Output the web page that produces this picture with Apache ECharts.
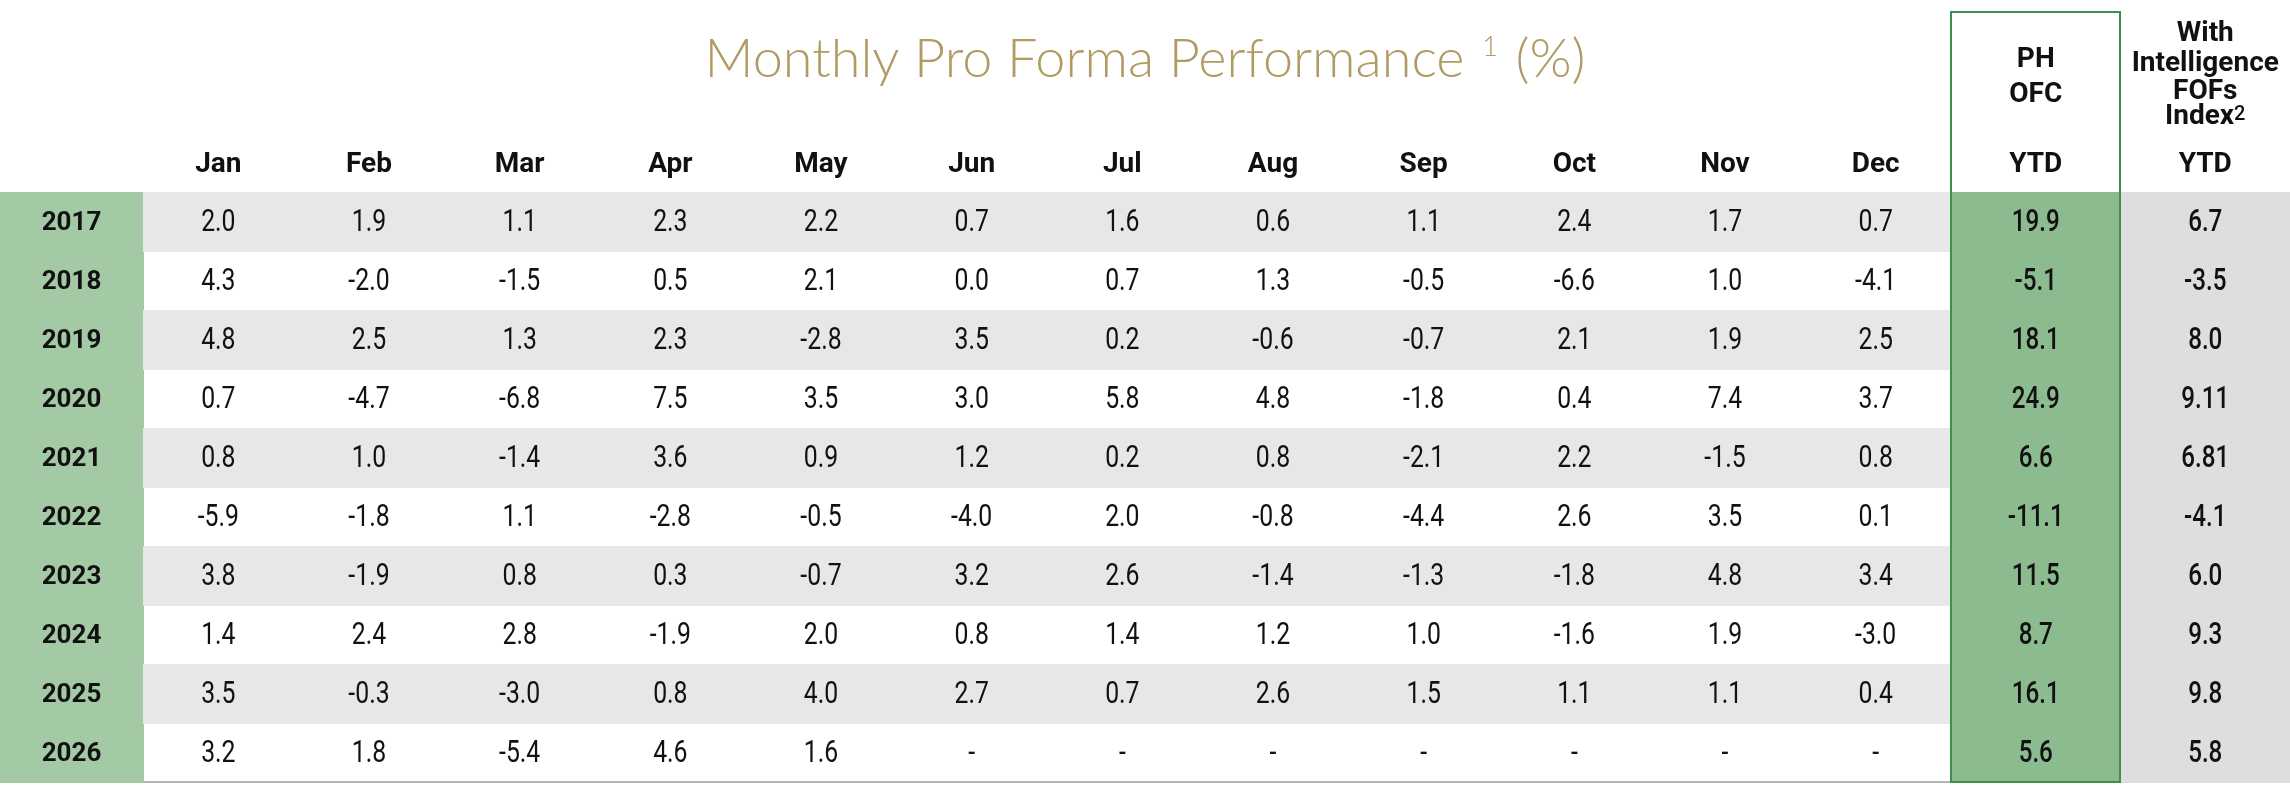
<!DOCTYPE html>
<html>
<head>
<meta charset="utf-8">
<title>Monthly Pro Forma Performance</title>
<script src="https://cdn.jsdelivr.net/npm/echarts@6/dist/echarts.min.js"></script>
<style>
  html, body { margin: 0; padding: 0; background: #fff; }
  #chart { width: 2290px; height: 790px; }
</style>
</head>
<body>
<div id="chart"></div>
<script>
const years = ['2017', '2018', '2019', '2020', '2021', '2022', '2023', '2024', '2025', '2026'];
const months = ['Jan', 'Feb', 'Mar', 'Apr', 'May', 'Jun', 'Jul', 'Aug', 'Sep', 'Oct', 'Nov', 'Dec'];
const ytdCols = ['PH OFC', 'With Intelligence FOFs Index'];

// monthly returns, one row per year ('-' = not reported yet)
const monthly = [
    ['2.0', '1.9', '1.1', '2.3', '2.2', '0.7', '1.6', '0.6', '1.1', '2.4', '1.7', '0.7'],
    ['4.3', '-2.0', '-1.5', '0.5', '2.1', '0.0', '0.7', '1.3', '-0.5', '-6.6', '1.0', '-4.1'],
    ['4.8', '2.5', '1.3', '2.3', '-2.8', '3.5', '0.2', '-0.6', '-0.7', '2.1', '1.9', '2.5'],
    ['0.7', '-4.7', '-6.8', '7.5', '3.5', '3.0', '5.8', '4.8', '-1.8', '0.4', '7.4', '3.7'],
    ['0.8', '1.0', '-1.4', '3.6', '0.9', '1.2', '0.2', '0.8', '-2.1', '2.2', '-1.5', '0.8'],
    ['-5.9', '-1.8', '1.1', '-2.8', '-0.5', '-4.0', '2.0', '-0.8', '-4.4', '2.6', '3.5', '0.1'],
    ['3.8', '-1.9', '0.8', '0.3', '-0.7', '3.2', '2.6', '-1.4', '-1.3', '-1.8', '4.8', '3.4'],
    ['1.4', '2.4', '2.8', '-1.9', '2.0', '0.8', '1.4', '1.2', '1.0', '-1.6', '1.9', '-3.0'],
    ['3.5', '-0.3', '-3.0', '0.8', '4.0', '2.7', '0.7', '2.6', '1.5', '1.1', '1.1', '0.4'],
    ['3.2', '1.8', '-5.4', '4.6', '1.6', '-', '-', '-', '-', '-', '-', '-']
];
const phOfcYtd = ['19.9', '-5.1', '18.1', '24.9', '6.6', '-11.1', '11.5', '8.7', '16.1', '5.6'];
const fofIndexYtd = ['6.7', '-3.5', '8.0', '9.11', '6.81', '-4.1', '6.0', '9.3', '9.8', '5.8'];

const GREEN_YEAR = '#a3c9a5';
const GREEN_PH = '#8dbb90';
const GREY_ROW = '#e6e7e8';
const GREY_IDX = '#dddee0';
const INK = '#111111';

function cellRenderer(opts) {
    return function(params, api) {
        const col = api.value(0), row = api.value(1);
        const c = api.coord([col, row]);
        const s = api.size([1, 1]);
        const children = [];
        const fill = opts.fill(col, row);
        if (fill) {
            children.push({
                type: 'rect',
                shape: { x: c[0] - s[0] / 2, y: c[1] - s[1] / 2, width: s[0] + 1, height: s[1] + 1 },
                style: { fill: fill }
            });
        }
        children.push({
            type: 'text',
            x: c[0], y: c[1] + 2,
            scaleX: opts.scaleX || 1,
            style: {
                text: opts.text(col, row),
                fill: INK,
                font: opts.font(col),
                align: 'center',
                verticalAlign: 'middle'
            }
        });
        return { type: 'group', children: children };
    };
}

const yearData = years.map((y, i) => [0, i]);
const monthData = [];
monthly.forEach((r, i) => r.forEach((v, j) => monthData.push([j, i])));
const ytdData = [];
years.forEach((y, i) => { ytdData.push([0, i]); ytdData.push([1, i]); });

const headLabel = {
    fontFamily: 'Roboto', fontWeight: 700, fontSize: 28, color: INK, lineHeight: 28
};

function rowAxis(gridIndex) {
    return { type: 'category', gridIndex: gridIndex, data: years, inverse: true, show: false };
}

const chart = echarts.init(document.getElementById('chart'), null, { renderer: 'canvas' });

chart.setOption({
    backgroundColor: '#ffffff',
    animation: false,
    title: {
        text: '{t|Monthly Pro Forma Performance }{s|1}{t| (%)}',
        left: 'center',
        top: 25,
        textStyle: {
            rich: {
                t: { fontFamily: 'Lato', fontWeight: 300, fontSize: 54, color: '#b09b62', lineHeight: 60 },
                s: { fontFamily: 'Lato', fontWeight: 300, fontSize: 27, color: '#b09b62', verticalAlign: 'top', lineHeight: 60, padding: [4, 3, 0, 3] }
            }
        }
    },
    grid: [
        { left: 0, top: 192, width: 143, height: 590 },
        { left: 143, top: 192, width: 1808, height: 590 },
        { left: 1951, top: 192, width: 339, height: 590 },
        { left: 1951, top: 12, width: 169, height: 770, show: true, z: 10,
          backgroundColor: 'transparent', borderColor: '#3f8e4c', borderWidth: 2 }
    ],
    xAxis: [
        { type: 'category', gridIndex: 0, data: [''], show: false },
        { type: 'category', gridIndex: 1, data: months, position: 'top',
          axisLine: { show: false }, axisTick: { show: false },
          axisLabel: Object.assign({ margin: 13, interval: 0 }, headLabel) },
        { type: 'category', gridIndex: 1, data: months, position: 'bottom',
          axisLine: { show: true, lineStyle: { color: '#b3b3b3', width: 2 } },
          axisTick: { show: false }, axisLabel: { show: false } },
        { type: 'category', gridIndex: 2, data: ytdCols, position: 'top',
          axisLine: { show: false }, axisTick: { show: false },
          axisLabel: Object.assign({ margin: 13, interval: 0, formatter: () => 'YTD' }, headLabel) },
        { type: 'category', gridIndex: 2, data: ytdCols, position: 'top',
          axisLine: { show: false }, axisTick: { show: false },
          axisLabel: {
              margin: 63, interval: 0,
              formatter: (v, i) => i === 0
                  ? '{p|PH}\n{p|OFC}\n{g| }'
                  : '{w|With}\n{w|Intelligence}\n{f|FOFs}\n{i|Index}{sup|2}',
              rich: {
                  p: Object.assign({}, headLabel, { lineHeight: 35 }),
                  g: { fontSize: 10, lineHeight: 17 },
                  w: Object.assign({}, headLabel, { lineHeight: 30 }),
                  f: Object.assign({}, headLabel, { lineHeight: 26 }),
                  i: Object.assign({}, headLabel, { lineHeight: 24 }),
                  sup: { fontFamily: 'Roboto', fontWeight: 500, fontSize: 20, color: INK, lineHeight: 24, verticalAlign: 'top' }
              }
          } },
        { type: 'category', gridIndex: 3, data: [''], show: false }
    ],
    yAxis: [
        rowAxis(0), rowAxis(1), rowAxis(2),
        { type: 'category', gridIndex: 3, data: [''], show: false }
    ],
    series: [
        {
            type: 'custom', name: 'Year', xAxisIndex: 0, yAxisIndex: 0,
            data: yearData,
            renderItem: cellRenderer({
                fill: () => GREEN_YEAR,
                text: (c, r) => years[r],
                font: () => '700 26px Roboto'
            })
        },
        {
            type: 'custom', name: 'Monthly', xAxisIndex: 1, yAxisIndex: 1,
            data: monthData,
            renderItem: cellRenderer({
                fill: (c, r) => r % 2 === 0 ? GREY_ROW : null,
                text: (c, r) => monthly[r][c],
                font: () => '400 31px Roboto',
                scaleX: 0.8
            })
        },
        {
            type: 'custom', name: 'YTD', xAxisIndex: 3, yAxisIndex: 2,
            data: ytdData,
            renderItem: cellRenderer({
                fill: (c) => c === 0 ? GREEN_PH : GREY_IDX,
                text: (c, r) => c === 0 ? phOfcYtd[r] : fofIndexYtd[r],
                font: () => '500 31px Roboto',
                scaleX: 0.78
            })
        }
    ]
});
</script>
</body>
</html>
